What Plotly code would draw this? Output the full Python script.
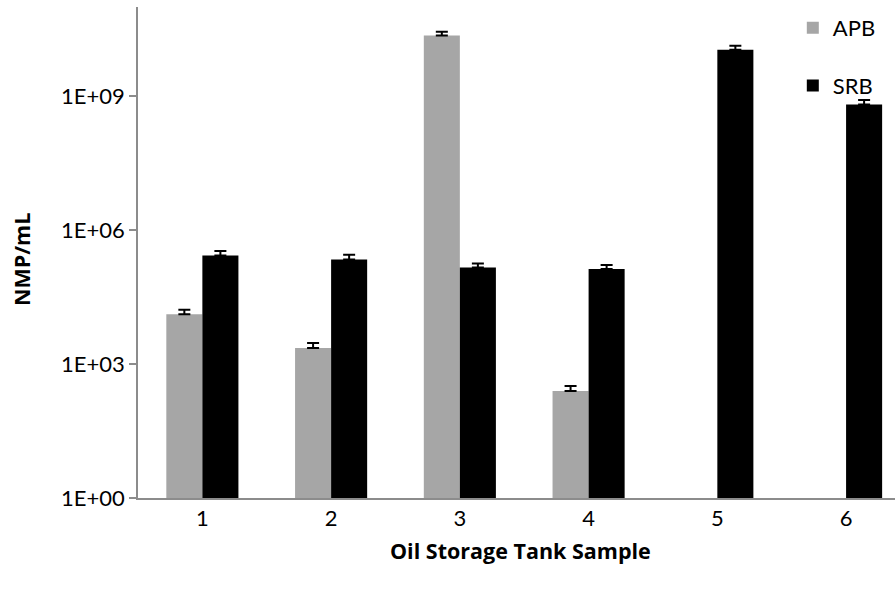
import plotly.graph_objects as go

categories = ["1", "2", "3", "4", "5", "6"]
apb_values = [1.3e4, 2.3e3, 2.3e10, 2.5e2, None, None]
apb_errors = [3.4e3, 6.5e2, 5.0e9, 7.4e1, None, None]
srb_values = [2.7e5, 2.2e5, 1.45e5, 1.35e5, 1.1e10, 6.5e8]
srb_errors = [7.0e4, 6.0e4, 3.5e4, 3.1e4, 2.5e9, 1.8e8]
y_tickvals = [1, 1e3, 1e6, 1e9]
y_ticktext = ["1E+00", "1E+03", "1E+06", "1E+09"]

FONT = "Lato"
FS = 22
TFONT = "Open Sans"
TFS = 21.5

fig = go.Figure()
fig.add_trace(go.Bar(
    name="APB", x=categories, y=apb_values, marker_color="#A6A6A6",
    marker_line_width=0, legendgroup="a",
    error_y=dict(type="data", symmetric=False, array=apb_errors,
                 arrayminus=[0] * len(apb_errors), color="black",
                 thickness=2, width=6),
))
fig.add_trace(go.Bar(
    name="SRB", x=categories, y=srb_values, marker_color="#000000",
    marker_line_width=0, legendgroup="b",
    error_y=dict(type="data", symmetric=False, array=srb_errors,
                 arrayminus=[0] * len(srb_errors), color="black",
                 thickness=2, width=6),
))

fig.update_layout(
    width=895, height=589,
    margin=dict(l=137.5, r=0, t=7, b=91),
    plot_bgcolor="white", paper_bgcolor="white",
    barmode="group", bargap=0.44, bargroupgap=0,
    font=dict(family=FONT, size=FS, color="black"),
    showlegend=True,
    legend=dict(x=0.865, y=1.0, xanchor="left", yanchor="top",
                traceorder="grouped", tracegroupgap=26,
                font=dict(size=FS), bgcolor="rgba(0,0,0,0)"),
)
fig.update_xaxes(
    type="category", range=[-0.5, 5.38],
    showline=True, linecolor="#8C8C8C", linewidth=1.5,
    ticks="", showgrid=False, tickfont=dict(size=FS),
)
fig.update_yaxes(
    type="log", range=[0, 11],
    tickvals=y_tickvals, ticktext=y_ticktext,
    showline=True, linecolor="#8C8C8C", linewidth=1.5,
    ticks="outside", ticklen=7, tickcolor="#8C8C8C", tickwidth=1.5,
    showgrid=False, zeroline=False, tickfont=dict(size=FS),
)
fig.add_annotation(text="<b>NMP/mL</b>", xref="paper", yref="paper",
                   x=-0.153, y=0.485, textangle=-90, showarrow=False,
                   font=dict(size=TFS, family=TFONT), xanchor="center", yanchor="middle")
fig.add_annotation(text="<b>Oil Storage Tank Sample</b>", xref="paper", yref="paper",
                   x=0.505, y=-0.107, showarrow=False,
                   font=dict(size=TFS, family=TFONT), xanchor="center", yanchor="middle")

fig.write_html("out.html")
